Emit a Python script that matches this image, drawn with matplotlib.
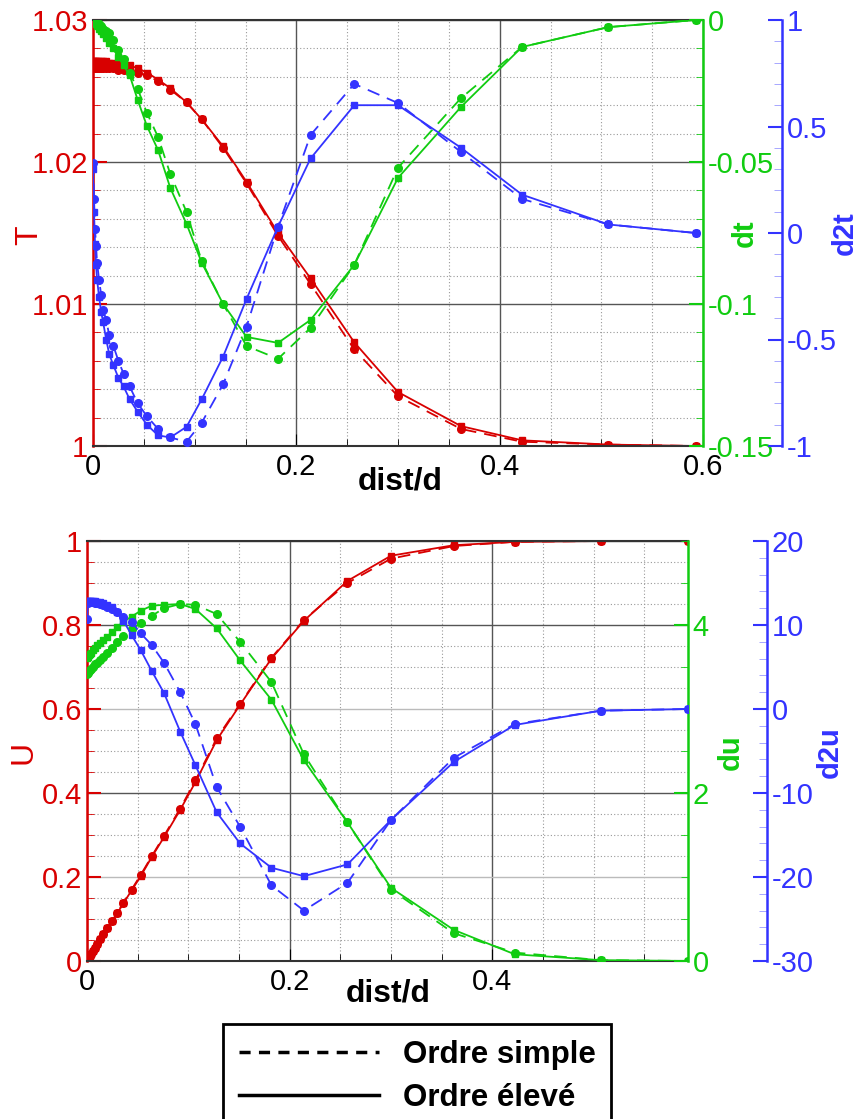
import matplotlib
matplotlib.use('Agg')
import matplotlib.pyplot as plt
from matplotlib.ticker import MultipleLocator
from matplotlib.lines import Line2D

plt.rcParams['font.family'] = ['Liberation Sans', 'DejaVu Sans']
plt.rcParams['axes.unicode_minus'] = False

RED = '#d80000'
GREEN = '#11cc11'
BLUE = '#3333ff'

# wall distance (same mesh for both schemes)
dist = [0.000, 0.001, 0.002, 0.003, 0.004, 0.006, 0.008, 0.010, 0.013, 0.016,
        0.020, 0.025, 0.030, 0.036, 0.044, 0.053, 0.064, 0.076, 0.092, 0.107,
        0.128, 0.151, 0.182, 0.214, 0.257, 0.300, 0.362, 0.422, 0.507, 0.593]

# temperature profile
T_simple = [1.0266, 1.0266, 1.0266, 1.0266, 1.0266, 1.0266, 1.0266, 1.0266, 1.0266, 1.0266,
            1.0266, 1.0265, 1.0265, 1.0264, 1.0263, 1.0261, 1.0257, 1.0251, 1.0242, 1.0230,
            1.0210, 1.0185, 1.0148, 1.0114, 1.0068, 1.0035, 1.0012, 1.0003, 1.0001, 1.0000]
T_eleve = [1.0271, 1.0271, 1.0271, 1.0271, 1.0271, 1.0271, 1.0271, 1.0271, 1.0271, 1.0270,
           1.0270, 1.0270, 1.0269, 1.0268, 1.0266, 1.0263, 1.0258, 1.0252, 1.0242, 1.0230,
           1.0211, 1.0186, 1.0150, 1.0118, 1.0073, 1.0038, 1.0014, 1.0004, 1.0001, 1.0000]
dt_simple = [0.0, -0.0002, -0.0004, -0.0006, -0.0008, -0.0015, -0.0022, -0.0030, -0.0038, -0.0046,
             -0.0070, -0.0105, -0.0138, -0.0187, -0.0243, -0.0327, -0.0412, -0.0542, -0.0676, -0.0850,
             -0.1000, -0.1148, -0.1193, -0.1084, -0.0862, -0.0520, -0.0275, -0.0095, -0.0025, 0.0]
dt_eleve = [0.0, -0.0005, -0.0010, -0.0015, -0.0020, -0.0030, -0.0040, -0.0050, -0.0065, -0.0080,
            -0.0100, -0.0130, -0.0160, -0.0194, -0.0282, -0.0373, -0.0458, -0.0591, -0.0718, -0.0855,
            -0.1000, -0.1116, -0.1137, -0.1056, -0.0862, -0.0556, -0.0306, -0.0095, -0.0025, 0.0]
d2t_simple = [0.33, 0.16, 0.02, -0.06, -0.14, -0.22, -0.29, -0.36, -0.41, -0.48,
              -0.53, -0.60, -0.66, -0.72, -0.80, -0.86, -0.92, -0.96, -0.98, -0.89,
              -0.71, -0.44, 0.03, 0.46, 0.70, 0.61, 0.38, 0.16, 0.04, 0.0]
d2t_eleve = [0.30, 0.10, -0.05, -0.15, -0.22, -0.30, -0.37, -0.42, -0.50, -0.57,
             -0.62, -0.68, -0.72, -0.78, -0.84, -0.90, -0.95, -0.96, -0.91, -0.78,
             -0.58, -0.31, 0.03, 0.35, 0.60, 0.60, 0.40, 0.18, 0.04, 0.0]

# velocity profile
U_simple = [0.0, 0.004, 0.008, 0.012, 0.016, 0.024, 0.032, 0.040, 0.052, 0.064,
            0.078, 0.096, 0.115, 0.139, 0.170, 0.205, 0.250, 0.298, 0.363, 0.430,
            0.530, 0.612, 0.722, 0.812, 0.900, 0.958, 0.988, 0.998, 1.0, 1.0]
U_eleve = [0.0, 0.004, 0.008, 0.012, 0.016, 0.024, 0.032, 0.040, 0.052, 0.064,
           0.078, 0.095, 0.114, 0.138, 0.168, 0.202, 0.248, 0.295, 0.360, 0.426,
           0.526, 0.610, 0.720, 0.810, 0.905, 0.965, 0.990, 0.998, 1.0, 1.0]
du_simple = [3.42, 3.43, 3.45, 3.46, 3.48, 3.50, 3.53, 3.55, 3.58, 3.62,
             3.67, 3.73, 3.80, 3.87, 3.95, 4.02, 4.11, 4.20, 4.25, 4.24,
             4.13, 3.80, 3.32, 2.46, 1.65, 0.85, 0.33, 0.10, 0.01, 0.0]
du_eleve = [3.61, 3.62, 3.64, 3.65, 3.67, 3.70, 3.73, 3.76, 3.79, 3.82,
            3.86, 3.92, 3.98, 4.04, 4.10, 4.17, 4.23, 4.24, 4.25, 4.19,
            3.96, 3.58, 3.11, 2.39, 1.65, 0.87, 0.37, 0.08, 0.01, 0.0]
d2u_simple = [10.7, 12.6, 12.7, 12.7, 12.7, 12.7, 12.6, 12.6, 12.5, 12.4,
              12.2, 11.9, 11.5, 11.0, 10.4, 9.0, 7.6, 5.5, 2.0, -1.8,
              -9.3, -14.0, -21.0, -24.0, -20.7, -13.2, -5.8, -1.8, -0.2, 0.0]
d2u_eleve = [12.8, 12.8, 12.8, 12.8, 12.8, 12.8, 12.8, 12.7, 12.7, 12.6,
             12.4, 12.1, 11.6, 10.5, 8.8, 7.0, 4.5, 1.9, -2.7, -6.7,
             -12.3, -16.0, -18.9, -19.9, -18.5, -13.2, -6.3, -1.9, -0.2, 0.0]

FS = 21
DASH = (0, (7, 4.5))


def fmt_num(v, pos):
    s = ('%.3f' % v).rstrip('0').rstrip('.')
    return '0' if s in ('-0', '') else s


def draw(ax, y_simple, y_eleve, color):
    ax.plot(dist, y_simple, ls=DASH, lw=1.3, color=color, marker='o', ms=5.5)
    ax.plot(dist, y_eleve, ls='-', lw=1.3, color=color, marker='s', ms=4)


def setup(ax, xmax, ylim1, ylim2, ylim3, loc1, loc2, loc3, spine3):
    ax.set_xlim(0, xmax)
    ax.set_ylim(*ylim1)
    ax.xaxis.set_major_locator(MultipleLocator(0.2))
    ax.xaxis.set_minor_locator(MultipleLocator(0.05))
    ax.xaxis.set_major_formatter(fmt_num)
    ax.yaxis.set_major_locator(MultipleLocator(loc1[0]))
    ax.yaxis.set_minor_locator(MultipleLocator(loc1[1]))
    ax.yaxis.set_major_formatter(fmt_num)
    ax.tick_params(axis='x', which='both', direction='in', labelsize=FS, pad=5, color='k')
    ax.tick_params(axis='x', which='major', length=9)
    ax.tick_params(axis='x', which='minor', length=5)
    ax.tick_params(axis='y', which='both', direction='in', colors=RED, labelsize=FS)
    ax.tick_params(axis='y', which='major', length=10, width=1.5)
    ax.tick_params(axis='y', which='minor', length=5)
    ax.spines['left'].set_color(RED)
    ax.spines['left'].set_linewidth(1.8)
    for s in ['top', 'bottom']:
        ax.spines[s].set_color('#333333')
        ax.spines[s].set_linewidth(1.5)
    ax.spines['right'].set_visible(False)
    ax.grid(which='major', axis='both', color='#555555', lw=1.0, ls='-')
    ax.grid(which='minor', axis='both', color='#999999', lw=0.8, ls=(0, (1, 2)))
    ax.set_axisbelow(True)

    ax2 = ax.twinx()
    ax2.set_ylim(*ylim2)
    ax2.yaxis.set_major_locator(MultipleLocator(loc2[0]))
    ax2.yaxis.set_minor_locator(MultipleLocator(loc2[1]))
    ax2.yaxis.set_major_formatter(fmt_num)
    ax2.tick_params(axis='y', which='both', direction='in', colors=GREEN, labelsize=FS)
    ax2.tick_params(axis='y', which='major', length=10, width=1.5)
    ax2.tick_params(axis='y', which='minor', length=5)
    for s in ['left', 'top', 'bottom']:
        ax2.spines[s].set_visible(False)
    ax2.spines['right'].set_color(GREEN)
    ax2.spines['right'].set_linewidth(1.8)

    ax3 = ax.twinx()
    ax3.set_ylim(*ylim3)
    ax3.yaxis.set_major_locator(MultipleLocator(loc3[0]))
    ax3.yaxis.set_minor_locator(MultipleLocator(loc3[1]))
    ax3.yaxis.set_major_formatter(fmt_num)
    ax3.tick_params(axis='y', which='both', direction='in', colors=BLUE, labelsize=FS)
    ax3.tick_params(axis='y', which='major', length=10, width=1.5)
    ax3.tick_params(axis='y', which='minor', length=6, color='#9999ff')
    for s in ['left', 'top', 'bottom']:
        ax3.spines[s].set_visible(False)
    ax3.spines['right'].set_position(('axes', spine3))
    ax3.spines['right'].set_color(BLUE)
    ax3.spines['right'].set_linewidth(1.8)
    return ax2, ax3


fig = plt.figure(figsize=(8.61, 11.19), dpi=100)
W, H = 861.0, 1119.0

# top panel: temperature
ax_t = fig.add_axes([93 / W, 1 - 446 / H, 610 / W, 426 / H])
dt_ax, d2t_ax = setup(ax_t, 0.6, (1.0, 1.03), (-0.15, 0.0), (-1, 1),
                      (0.01, 0.002), (0.05, 0.01), (0.5, 0.1), 1.1295)
draw(ax_t, T_simple, T_eleve, RED)
draw(dt_ax, dt_simple, dt_eleve, GREEN)
draw(d2t_ax, d2t_simple, d2t_eleve, BLUE)

# bottom panel: velocity
ax_u = fig.add_axes([87 / W, 1 - 961 / H, 601 / W, 420 / H])
du_ax, d2u_ax = setup(ax_u, 0.593, (0, 1), (0, 5), (-30, 20),
                      (0.2, 0.05), (2, 0.5), (10, 2), 1.1314)
draw(ax_u, U_simple, U_eleve, RED)
draw(du_ax, du_simple, du_eleve, GREEN)
draw(d2u_ax, d2u_simple, d2u_eleve, BLUE)

# lighter horizontal grid for the U-only levels
for tick, val in zip(ax_u.yaxis.get_major_ticks(), ax_u.get_yticks()):
    if abs(val - 0.2) < 1e-6 or abs(val - 0.6) < 1e-6:
        tick.gridline.set_color('#bbbbbb')


# axis titles
def lab(x, y, s, color, weight='normal', size=FS, rot=90):
    fig.text(x / W, 1 - y / H, s, color=color, fontsize=size, fontweight=weight,
             rotation=rot, ha='center', va='center')


lab(29, 235, 'T', RED, size=23)
lab(745, 233, 'dt', GREEN, 'bold')
lab(845, 233, 'd2t', BLUE, 'bold')
lab(400, 481, 'dist/d', 'black', 'bold', 23, 0)
lab(23, 752, 'U', RED, size=23)
lab(731, 752, 'du', GREEN, 'bold')
lab(830, 752, 'd2u', BLUE, 'bold')
lab(388, 994, 'dist/d', 'black', 'bold', 23, 0)

handles = [Line2D([], [], color='k', lw=2.5, ls=(0, (3.2, 2.4))),
           Line2D([], [], color='k', lw=2.5, ls='-')]
leg = fig.legend(handles, ['Ordre simple', 'Ordre élevé'], loc='upper left',
                 bbox_to_anchor=(223 / W, 1 - 1024 / H), fancybox=False,
                 edgecolor='k', framealpha=1, prop={'weight': 'bold', 'size': 22.5},
                 handlelength=4.5, handletextpad=0.75, labelspacing=0.42,
                 borderpad=0.5, borderaxespad=0)
leg.get_frame().set_linewidth(2)

fig.savefig('out.png', dpi=100)
